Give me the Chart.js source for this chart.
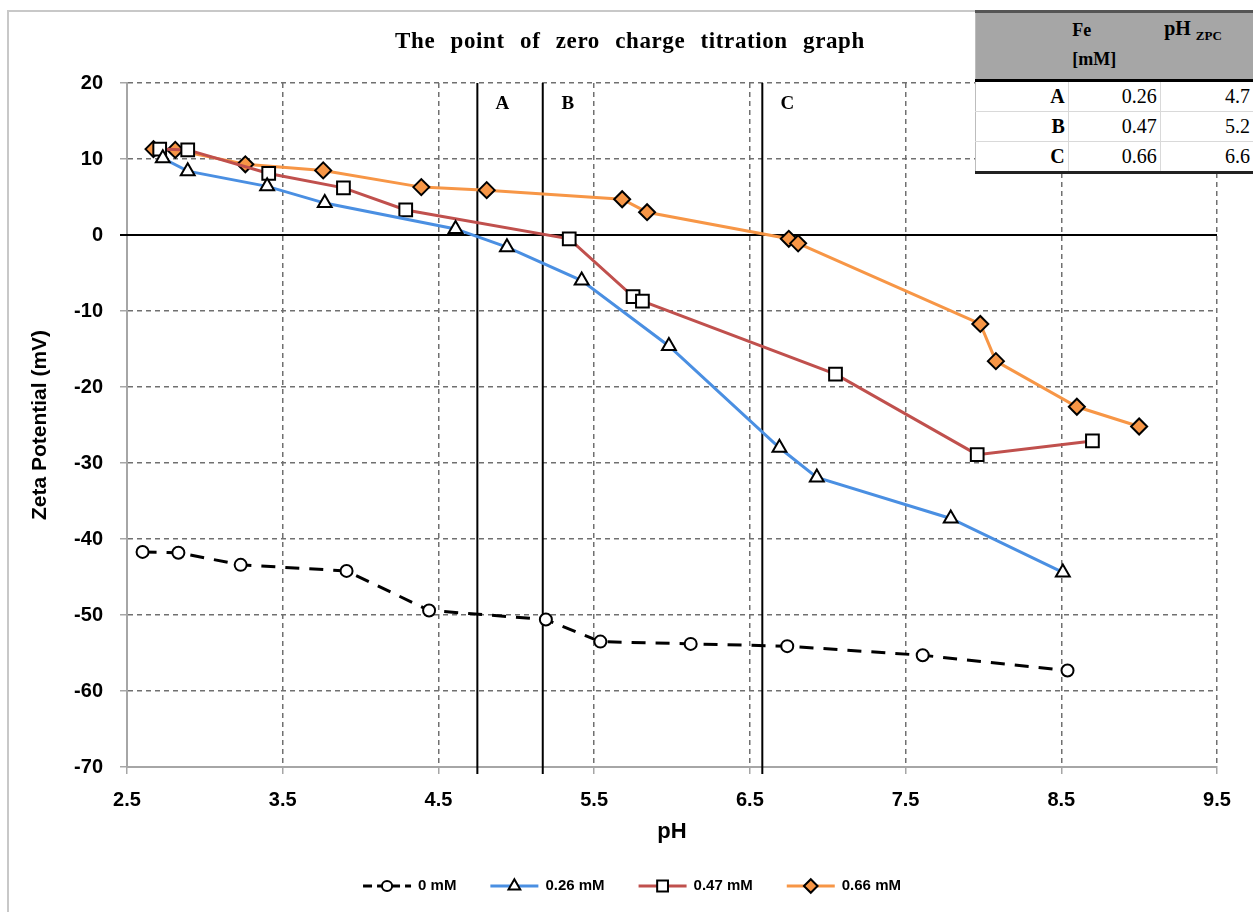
<!DOCTYPE html>
<html><head><meta charset="utf-8">
<script src="https://cdn.jsdelivr.net/npm/chart.js@4/dist/chart.umd.min.js"></script>
<style>
html,body{margin:0;padding:0;background:#fff;}
#wrap{position:relative;width:1253px;height:912px;overflow:hidden;background:#fff;}
#c{position:absolute;left:0;top:0;}
#frame{position:absolute;left:7px;top:10px;width:1300px;height:1000px;border-left:2px solid #c8c8c8;border-top:2px solid #c8c8c8;pointer-events:none;}
#tbl{position:absolute;left:975px;top:10px;width:278px;border-collapse:collapse;background:#fff;font-family:"Liberation Serif","Times New Roman",serif;border-left:1px solid #bdbdbd;}
#tbl th{background:#a6a6a6;height:62px;vertical-align:top;text-align:left;font-weight:bold;padding:0;border-top:3px solid #555;border-bottom:3px solid #000;}
#tbl td{height:29px;font-size:20px;text-align:right;padding:0 3px 0 0;border-bottom:1px solid #d9d9d9;border-right:1px solid #d9d9d9;}
#tbl tr:last-child td{border-bottom:3px solid #222;}
#tbl td.lab{font-weight:bold;}
</style>
</head><body>
<div id="wrap">
<canvas id="c" width="1253" height="912"></canvas>
<div id="frame"></div>
<table id="tbl"></table>
</div>
<script>
// ---- data ----
const ph_0 = [2.60, 2.83, 3.23, 3.91, 4.44, 5.19, 5.54, 6.12, 6.74, 7.61, 8.54];
const zeta_0 = [-41.7, -41.8, -43.4, -44.2, -49.4, -50.6, -53.5, -53.8, -54.1, -55.3, -57.3];

const ph_026 = [2.73, 2.89, 3.40, 3.77, 4.61, 4.94, 5.42, 5.98, 6.69, 6.93, 7.79, 8.51];
const zeta_026 = [10.1, 8.4, 6.4, 4.2, 0.8, -1.6, -6.0, -14.6, -28.0, -31.9, -37.3, -44.4];

const ph_047 = [2.71, 2.89, 3.41, 3.89, 4.29, 5.34, 5.75, 5.81, 7.05, 7.96, 8.70];
const zeta_047 = [11.3, 11.2, 8.1, 6.2, 3.3, -0.5, -8.1, -8.7, -18.3, -28.9, -27.1];

const ph_066 = [2.67, 2.81, 3.26, 3.76, 4.39, 4.81, 5.68, 5.84, 6.75, 6.81, 7.98, 8.08, 8.60, 9.00];
const zeta_066 = [11.3, 11.2, 9.3, 8.5, 6.3, 5.9, 4.7, 3.0, -0.5, -1.1, -11.7, -16.6, -22.6, -25.2];

const seriesNames = ['0 mM', '0.26 mM', '0.47 mM', '0.66 mM'];

const zpcLinePh = [4.75, 5.17, 6.58];
const zpcLineLabels = ['A', 'B', 'C'];

const xTickValues = [2.5, 3.5, 4.5, 5.5, 6.5, 7.5, 8.5, 9.5];
const xTickLabels = ['2.5', '3.5', '4.5', '5.5', '6.5', '7.5', '8.5', '9.5'];
const yTickValues = [20, 10, 0, -10, -20, -30, -40, -50, -60, -70];

const tableRowLabels = ['A', 'B', 'C'];
const tableFe = ['0.26', '0.47', '0.66'];
const tablePhZpc = ['4.7', '5.2', '6.6'];

const titleText = 'The point of zero charge titration graph';
const xTitle = 'pH';
const yTitle = 'Zeta Potential (mV)';

// ---- table ----
(function(){
  const t = document.getElementById('tbl');
  let h = '<colgroup><col style="width:93px"><col style="width:92px"><col style="width:93px"></colgroup>';
  h += '<tr><th></th><th style="font-size:18px;line-height:29px;padding:3px 0 0 4px;">Fe<br>[mM]</th>' +
       '<th style="font-size:20px;padding:4px 0 0 4px;">pH <sub style="font-size:13px;">ZPC</sub></th></tr>';
  for (let i = 0; i < tableRowLabels.length; i++) {
    h += '<tr><td class="lab">' + tableRowLabels[i] + '</td><td>' + tableFe[i] + '</td><td style="border-right:none">' + tablePhZpc[i] + '</td></tr>';
  }
  t.innerHTML = h;
})();

const pts = (xs, ys) => xs.map((x, i) => ({x: x, y: ys[i]}));

const datasets = [
  {label: seriesNames[0], data: pts(ph_0, zeta_0), borderColor: '#000000', borderWidth: 3, borderDash: [14, 10],
   pointStyle: 'circle', pointRadius: 6, pointBackgroundColor: '#ffffff', pointBorderColor: '#000', pointBorderWidth: 2},
  {label: seriesNames[1], data: pts(ph_026, zeta_026), borderColor: '#4a8fe2', borderWidth: 3,
   pointStyle: 'triangle', pointRadius: 8, pointBackgroundColor: '#ffffff', pointBorderColor: '#000', pointBorderWidth: 2},
  {label: seriesNames[2], data: pts(ph_047, zeta_047), borderColor: '#c0504d', borderWidth: 3,
   pointStyle: 'rect', pointRadius: 9, pointBackgroundColor: '#ffffff', pointBorderColor: '#000', pointBorderWidth: 2},
  {label: seriesNames[3], data: pts(ph_066, zeta_066), borderColor: '#f79646', borderWidth: 3,
   pointStyle: 'rectRot', pointRadius: 8, pointBackgroundColor: '#f79646', pointBorderColor: '#000', pointBorderWidth: 2}
];

const PAD = {left: 0, top: 83, right: 36, bottom: 0};

const decor = {
  id: 'decor',
  beforeDatasetsDraw(chart) {
    const {ctx, chartArea, scales} = chart;
    const xs = scales.x, ys = scales.y;
    ctx.save();
    // zero line
    const y0 = ys.getPixelForValue(0);
    ctx.strokeStyle = '#000'; ctx.lineWidth = 2; ctx.setLineDash([]);
    ctx.beginPath(); ctx.moveTo(chartArea.left - 7, y0); ctx.lineTo(chartArea.right, y0); ctx.stroke();
    // pH zpc lines
    zpcLinePh.forEach((p, i) => {
      const x = xs.getPixelForValue(p);
      ctx.beginPath(); ctx.moveTo(x, chartArea.top); ctx.lineTo(x, chartArea.bottom + 7); ctx.stroke();
      ctx.fillStyle = '#000';
      ctx.font = 'bold 19px "Liberation Serif", serif';
      ctx.textAlign = 'center'; ctx.textBaseline = 'middle';
      ctx.fillText(zpcLineLabels[i], x + 25, chartArea.top + 21);
    });
    ctx.restore();
  },
  afterDraw(chart) {
    const {ctx, chartArea} = chart;
    ctx.save();
    ctx.fillStyle = '#000';
    // title
    ctx.font = 'bold 23px "Liberation Serif", serif';
    ctx.textAlign = 'center'; ctx.textBaseline = 'middle';
    try { ctx.wordSpacing = '9px'; ctx.letterSpacing = '0.6px'; } catch(e) {}
    ctx.fillText(titleText, 630, 42);
    try { ctx.wordSpacing = '0px'; ctx.letterSpacing = '0px'; } catch(e) {}
    // axis titles
    ctx.font = 'bold 22px "Liberation Sans", Arial, sans-serif';
    ctx.fillText(xTitle, (chartArea.left + chartArea.right) / 2, 832);
    ctx.save();
    ctx.translate(40, (chartArea.top + chartArea.bottom) / 2);
    ctx.rotate(-Math.PI / 2);
    ctx.font = 'bold 21px "Liberation Sans", Arial, sans-serif';
    ctx.fillText(yTitle, 0, 0);
    ctx.restore();
    // legend
    ctx.font = 'bold 15px "Liberation Sans Narrow", "Arial Narrow", Arial, sans-serif';
    const sample = 48, gapT = 7, gapI = 34;
    const items = chart.data.datasets.map(d => ({d, w: ctx.measureText(d.label).width}));
    let total = items.reduce((s, it) => s + sample + gapT + it.w, 0) + gapI * (items.length - 1);
    let x = 632 - total / 2;
    const ly = 886;
    items.forEach(it => {
      const d = it.d;
      ctx.strokeStyle = d.borderColor; ctx.lineWidth = 3;
      ctx.setLineDash(d.borderDash ? [9, 5] : []);
      ctx.beginPath(); ctx.moveTo(x, ly); ctx.lineTo(x + sample, ly); ctx.stroke();
      ctx.setLineDash([]);
      ctx.fillStyle = d.pointBackgroundColor; ctx.strokeStyle = d.pointBorderColor; ctx.lineWidth = 2;
      Chart.helpers.drawPoint(ctx, {pointStyle: d.pointStyle, radius: d.pointRadius * 0.85, rotation: 0, borderWidth: 2}, x + sample / 2, ly);
      ctx.fillStyle = '#000'; ctx.textAlign = 'left'; ctx.textBaseline = 'middle';
      ctx.fillText(d.label, x + sample + gapT, ly);
      x += sample + gapT + it.w + gapI;
    });
    ctx.restore();
  }
};

new Chart(document.getElementById('c'), {
  type: 'scatter',
  data: {datasets: datasets.map(d => Object.assign({showLine: true, tension: 0, fill: false}, d))},
  options: {
    responsive: false, animation: false, devicePixelRatio: 1,
    layout: {padding: PAD},
    plugins: {legend: {display: false}, title: {display: false}, tooltip: {enabled: false}},
    scales: {
      x: {
        type: 'linear', min: 2.5, max: 9.5,
        afterBuildTicks: s => { s.ticks = xTickValues.map(v => ({value: v})); },
        afterFit: s => { s.height = 912 - 767 - PAD.bottom; },
        ticks: {callback: (v, i) => xTickLabels[i], color: '#000', padding: 14,
                font: {family: '"Liberation Sans Narrow", "Arial Narrow", Arial, sans-serif', size: 20, weight: 'bold'}, maxRotation: 0},
        grid: {color: '#707070', lineWidth: 1.5, tickLength: 7, tickColor: '#a6a6a6', tickBorderDash: [], drawTicks: true},
        border: {display: true, color: '#a6a6a6', width: 2, dash: [5, 4]}
      },
      y: {
        type: 'linear', min: -70, max: 20,
        afterBuildTicks: s => { s.ticks = yTickValues.slice().reverse().map(v => ({value: v})); },
        afterFit: s => { s.width = 127 - PAD.left; },
        ticks: {color: '#000', padding: 17,
                font: {family: '"Liberation Sans", Arial, sans-serif', size: 20, weight: 'bold'}},
        grid: {color: '#707070', lineWidth: 1.5, tickLength: 7, tickColor: '#a6a6a6', tickBorderDash: []},
        border: {display: true, color: '#a6a6a6', width: 2, dash: [5, 4]}
      }
    }
  },
  plugins: [decor]
});
</script>
</body></html>
